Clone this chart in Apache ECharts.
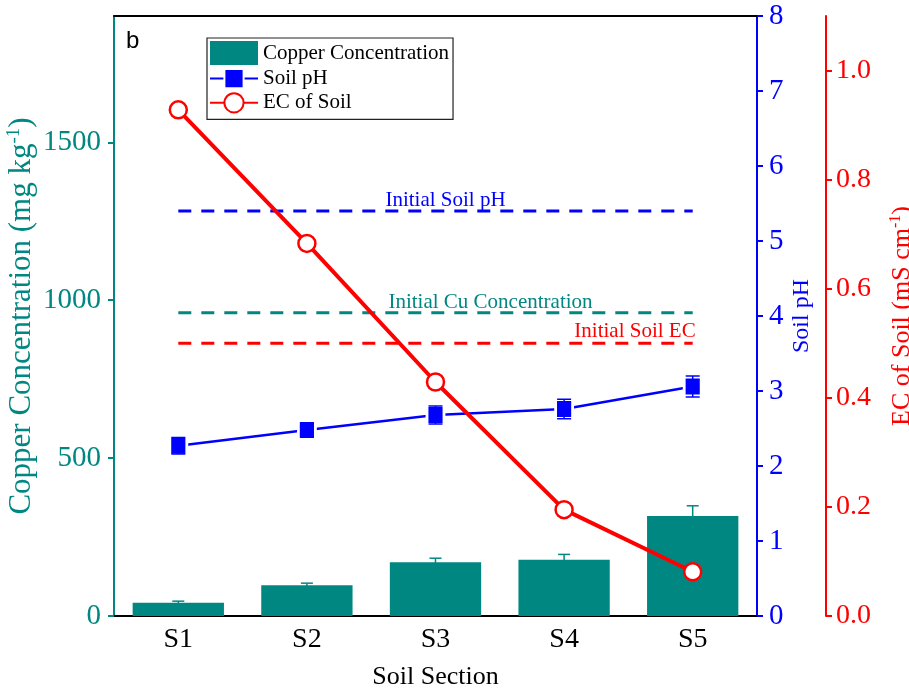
<!DOCTYPE html>
<html>
<head>
<meta charset="utf-8">
<script src="https://cdn.jsdelivr.net/npm/echarts@6/dist/echarts.min.js"></script>
<style>
  html, body { margin: 0; padding: 0; background: #fff; }
  #chart { width: 909px; height: 696px; }
</style>
</head>
<body>
<div id="chart"></div>
<script>
// Soil sections along the x axis
const sections = ['S1', 'S2', 'S3', 'S4', 'S5'];

// Copper concentration (mg/kg) with standard deviation
const copper = [42, 97, 170, 178, 317];
const copperErr = [5, 7, 13, 17, 32];

// Soil pH with standard deviation
const soilPH = [2.27, 2.48, 2.68, 2.76, 3.06];
const soilPHErr = [0.11, 0.05, 0.12, 0.13, 0.14];

// Electrical conductivity of soil (mS/cm)
const soilEC = [0.928, 0.683, 0.429, 0.195, 0.081];

// Initial (pre-treatment) reference levels
const initialCu = 960;
const initialPH = 5.4;
const initialEC = 0.5;

// Axis tick values
const cuTicks = [0, 500, 1000, 1500];
const phTicks = [0, 1, 2, 3, 4, 5, 6, 7, 8];
const ecTicks = [0, 0.2, 0.4, 0.6, 0.8, 1.0];

const TEAL = '#008782';
const BLUE = '#0000ff';
const RED = '#ff0000';
const SERIF = '"Liberation Serif", "Times New Roman", serif';

const chart = echarts.init(document.getElementById('chart'), null, { renderer: 'canvas' });

function errorBarSeries(name, values, errs, yAxisIndex, color, capHalf, width, z) {
  return {
    type: 'custom',
    name: name,
    yAxisIndex: yAxisIndex,
    z: z,
    silent: true,
    data: values.map((v, i) => [i, v - errs[i], v + errs[i]]),
    renderItem: function (params, api) {
      const lo = api.coord([api.value(0), api.value(1)]);
      const hi = api.coord([api.value(0), api.value(2)]);
      const style = { stroke: color, lineWidth: width };
      return {
        type: 'group',
        children: [
          { type: 'line', shape: { x1: hi[0], y1: hi[1], x2: lo[0], y2: lo[1] }, style: style },
          { type: 'line', shape: { x1: hi[0] - capHalf, y1: hi[1], x2: hi[0] + capHalf, y2: hi[1] }, style: style },
          { type: 'line', shape: { x1: lo[0] - capHalf, y1: lo[1], x2: lo[0] + capHalf, y2: lo[1] }, style: style }
        ]
      };
    }
  };
}

// Dashed horizontal reference level, labelled at one category
function refLine(value, yAxisIndex, color, text, labelIndex, labelOpt) {
  return {
    type: 'line',
    name: text,
    yAxisIndex: yAxisIndex,
    z: 3,
    silent: true,
    symbol: 'circle',
    symbolSize: 0,
    showSymbol: true,
    lineStyle: { color: color, width: 3, type: [13, 10] },
    itemStyle: { color: color },
    data: sections.map((s, i) => {
      if (i !== labelIndex) return value;
      return {
        value: value,
        label: Object.assign({
          show: true,
          formatter: text,
          color: color,
          fontFamily: SERIF,
          fontSize: 21
        }, labelOpt)
      };
    })
  };
}

const option = {
  animation: false,
  backgroundColor: '#fff',
  grid: { left: 114, right: 152, top: 16, bottom: 80, containLabel: false, outerBoundsMode: 'none' },
  legend: {
    orient: 'vertical',
    left: 207,
    top: 38,
    data: [
      { name: 'Copper Concentration', icon: 'rect' },
      { name: 'Soil pH' },
      { name: 'EC of Soil' }
    ],
    itemWidth: 48,
    itemHeight: 24,
    itemGap: 3,
    padding: [3, 4, 6, 2],
    borderColor: '#222',
    borderWidth: 1.2,
    textStyle: { fontFamily: SERIF, fontSize: 21, color: '#000' }
  },
  graphic: [{
    type: 'text',
    left: 126,
    top: 29,
    style: { text: 'b', font: '24px "Liberation Sans", Arial, sans-serif', fill: '#000' }
  }],
  xAxis: [{
    type: 'category',
    data: sections,
    position: 'bottom',
    name: 'Soil Section',
    nameLocation: 'middle',
    nameGap: 48,
    nameMoveOverlap: false,
    nameTextStyle: { fontFamily: SERIF, fontSize: 26, color: '#000' },
    axisLine: { lineStyle: { color: '#000', width: 2 } },
    axisTick: { length: 6, lineStyle: { color: '#000', width: 2 } },
    axisLabel: { fontFamily: SERIF, fontSize: 28, color: '#000', margin: 10 },
    splitLine: { show: false }
  }, {
    type: 'category',
    data: sections,
    position: 'top',
    axisLine: { onZero: false, lineStyle: { color: '#000', width: 2 } },
    axisTick: { show: false },
    axisLabel: { show: false },
    splitLine: { show: false }
  }],
  yAxis: [{
    type: 'value',
    position: 'left',
    min: 0,
    max: 1900,
    interval: 500,
    name: 'Copper Concentration (mg kg{sup|-1})',
    nameLocation: 'middle',
    nameGap: 76,
    nameMoveOverlap: false,
    nameTextStyle: {
      fontFamily: SERIF, fontSize: 31, color: TEAL,
      rich: { sup: { fontFamily: SERIF, fontSize: 19, color: TEAL, padding: [0, 0, 14, 0] } }
    },
    axisLine: { show: true, lineStyle: { color: TEAL, width: 2 } },
    axisTick: { show: true, length: 6, customValues: cuTicks, lineStyle: { color: TEAL, width: 2 } },
    axisLabel: {
      customValues: cuTicks, fontFamily: SERIF, fontSize: 29, color: TEAL, margin: 13,
      formatter: v => String(v)
    },
    splitLine: { show: false }
  }, {
    type: 'value',
    position: 'right',
    min: 0,
    max: 8,
    interval: 1,
    name: 'Soil pH',
    nameLocation: 'middle',
    nameGap: 33,
    nameMoveOverlap: false,
    nameTextStyle: { fontFamily: SERIF, fontSize: 24, color: BLUE },
    axisLine: { show: true, lineStyle: { color: BLUE, width: 2 } },
    axisTick: { show: true, length: 6, customValues: phTicks, lineStyle: { color: BLUE, width: 2 } },
    axisLabel: { customValues: phTicks, fontFamily: SERIF, fontSize: 29, color: BLUE, margin: 12 },
    splitLine: { show: false }
  }, {
    type: 'value',
    position: 'right',
    offset: 69,
    min: 0,
    max: 1.1,
    name: 'EC of Soil (mS cm{sup|-1})',
    nameLocation: 'middle',
    nameGap: 62,
    nameMoveOverlap: false,
    nameTextStyle: {
      fontFamily: SERIF, fontSize: 26, color: RED,
      rich: { sup: { fontFamily: SERIF, fontSize: 16, color: RED, padding: [0, 0, 12, 0] } }
    },
    axisLine: { show: true, lineStyle: { color: RED, width: 2 } },
    axisTick: { show: true, length: 6, customValues: ecTicks, lineStyle: { color: RED, width: 2 } },
    axisLabel: {
      customValues: ecTicks, fontFamily: SERIF, fontSize: 28, color: RED, margin: 10,
      formatter: v => v.toFixed(1)
    },
    splitLine: { show: false }
  }],
  series: [
    {
      type: 'bar',
      name: 'Copper Concentration',
      yAxisIndex: 0,
      z: 2,
      barWidth: '71%',
      itemStyle: { color: TEAL },
      data: copper
    },
    errorBarSeries('cuErr', copper, copperErr, 0, TEAL, 6, 1.5, 4),
    refLine(initialPH, 1, BLUE, 'Initial Soil pH', 2, { position: 'top', distance: 0, offset: [10, 0] }),
    refLine(initialCu, 0, TEAL, 'Initial Cu Concentration', 2, { position: 'top', distance: 0, offset: [55, 0] }),
    refLine(initialEC, 2, RED, 'Initial Soil EC', 4, { position: 'top', distance: 1, align: 'right', offset: [3, 0] }),
    {
      type: 'line',
      name: 'Soil pH',
      yAxisIndex: 1,
      z: 5,
      symbol: 'rect',
      symbolSize: [17, 19],
      lineStyle: { color: BLUE, width: 2.5 },
      itemStyle: { color: BLUE, borderColor: '#fff', borderWidth: 3 },
      data: soilPH
    },
    errorBarSeries('phErr', soilPH, soilPHErr, 1, BLUE, 7, 1.5, 6),
    {
      type: 'line',
      name: 'EC of Soil',
      yAxisIndex: 2,
      z: 7,
      symbol: 'circle',
      symbolSize: 17,
      lineStyle: { color: RED, width: 4 },
      itemStyle: { color: '#fff', borderColor: RED, borderWidth: 2.5 },
      data: soilEC
    }
  ]
};

chart.setOption(option);
</script>
</body>
</html>
